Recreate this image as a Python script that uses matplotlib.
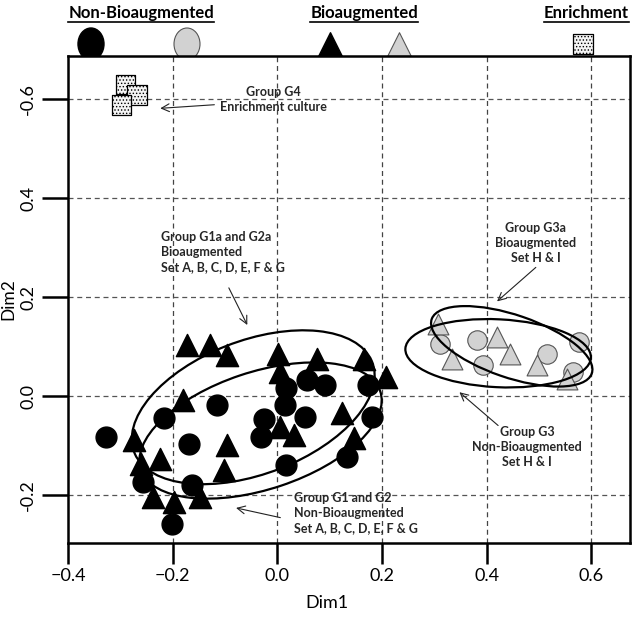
import matplotlib
matplotlib.use("Agg")
import matplotlib.pyplot as plt
from matplotlib.patches import Ellipse

"""
PCA-style ordination (Dim1 vs Dim2) of bioaugmented / non-bioaugmented sets.
"""

# black circles: non-bioaugmented sets A-G
nb_ag_x = [-0.328, -0.216, -0.115, -0.169, -0.256, -0.163, -0.201, -0.026, -0.032,
           0.017, 0.015, 0.057, 0.092, 0.053, 0.017, 0.174, 0.181, 0.134]
nb_ag_y = [-0.082, -0.044, -0.018, -0.097, -0.173, -0.179, -0.257, -0.045, -0.082,
           0.016, -0.018, 0.034, 0.022, -0.042, -0.139, 0.022, -0.042, -0.122]

# black triangles: bioaugmented sets A-G
b_ag_x = [-0.172, -0.129, -0.096, 0.002, 0.006, 0.076, 0.165, 0.208, -0.180, -0.274, -0.261,
          -0.225, -0.096, -0.102, 0.006, 0.031, 0.123, 0.146, -0.237, -0.198, -0.147]
b_ag_y = [0.103, 0.103, 0.083, 0.086, 0.049, 0.076, 0.076, 0.039, -0.008, -0.089, -0.136,
          -0.126, -0.099, -0.149, -0.062, -0.079, -0.034, -0.085, -0.203, -0.213, -0.203]

# grey circles: non-bioaugmented sets H & I
nb_hi_x = [0.311, 0.381, 0.394, 0.515, 0.577, 0.565]
nb_hi_y = [0.106, 0.113, 0.063, 0.086, 0.109, 0.049]

# grey triangles: bioaugmented sets H & I
b_hi_x = [0.308, 0.333, 0.419, 0.445, 0.496, 0.553]
b_hi_y = [0.147, 0.076, 0.120, 0.086, 0.063, 0.036]

# enrichment culture
enr_x = [-0.290, -0.268, -0.298]
enr_y = [0.630, 0.608, 0.588]

# group ellipses: centre x, centre y, width, height, angle
ell_cx = [-0.046, -0.032, 0.448, 0.422]
ell_cy = [-0.022, -0.069, 0.101, 0.087]
ell_w = [0.490, 0.484, 0.325, 0.355]
ell_h = [0.268, 0.236, 0.126, 0.137]
ell_ang = [22.5, 19.5, -20.0, -3.0]

x_ticks = [-0.4, -0.2, 0.0, 0.2, 0.4, 0.6]
y_ticks = [-0.2, 0.0, 0.2, 0.4, 0.6]
y_tick_labels = ["-0.2", "0.0", "0.2", "0.4", "-0.6"]

plt.rcParams['font.family'] = ['Lato', 'DejaVu Sans']
plt.rcParams['hatch.linewidth'] = 0.6

GREY = '#d2d2d2'
GREY_EDGE = '#555555'

fig = plt.figure(figsize=(6.32, 6.18), dpi=100)
ax = fig.add_axes([68/632, 1 - 543/618, 562/632, 487/618])

ax.set_xlim(-0.4, 0.674)
ax.set_ylim(-0.296, 0.687)

#grid first so markers sit on top
for xv in x_ticks[1:]:
    ax.axvline(xv, color='#444444', lw=0.9, ls=(0, (4, 3)), zorder=0)
for yv in y_ticks:
    ax.axhline(yv, color='#555555', lw=0.9, ls=(0, (4, 3)), zorder=0)

ax.scatter(nb_ag_x, nb_ag_y, s=15**2, marker='o', color='black', zorder=3)
ax.scatter(b_ag_x, b_ag_y, s=16**2, marker='^', color='black', zorder=3)
ax.scatter(nb_hi_x, nb_hi_y, s=14**2, marker='o', facecolor=GREY, edgecolor=GREY_EDGE,
           linewidths=0.8, zorder=3)
ax.scatter(b_hi_x, b_hi_y, s=15**2, marker='^', facecolor=GREY, edgecolor=GREY_EDGE,
           linewidths=0.8, zorder=3)
for ex, ey in zip(enr_x, enr_y):
    ax.scatter([ex], [ey], s=14**2, marker='s', facecolor='#f4f4f4', edgecolor='black',
               hatch='.....', linewidths=0.9, zorder=3)

for cx, cy, w, h, a in zip(ell_cx, ell_cy, ell_w, ell_h, ell_ang):
    ax.add_patch(Ellipse((cx, cy), w, h, angle=a, fill=False, ec='black', lw=1.6, zorder=4))

# annotations
note_kw = dict(fontsize=9, fontweight='bold', color='#262626', linespacing=1.3, va='center')
arrow_kw = dict(arrowstyle='->', color='#222222', lw=0.8, mutation_scale=14)

ax.text(-0.008, 0.600, "Group G4\nEnrichment culture", ha='center', **note_kw)
ax.annotate("", xy=(-0.229, 0.581), xytext=(-0.115, 0.589), arrowprops=arrow_kw)

ax.text(-0.223, 0.292, "Group G1a and G2a\nBioaugmented\nSet A, B, C, D, E, F & G",
        ha='left', **note_kw)
ax.annotate("", xy=(-0.055, 0.139), xytext=(-0.095, 0.224), arrowprops=arrow_kw)

ax.text(0.494, 0.310, "Group G3a\nBioaugmented\nSet H & I", ha='center', **note_kw)
ax.annotate("", xy=(0.416, 0.188), xytext=(0.498, 0.264), arrowprops=arrow_kw)

ax.text(0.477, -0.103, "Group G3\nNon-Bioaugmented\nSet H & I", ha='center', **note_kw)
ax.annotate("", xy=(0.344, 0.012), xytext=(0.426, -0.0625), arrowprops=arrow_kw)

ax.text(0.032, -0.236, "Group G1 and G2\nNon-Bioaugmented\nSet A, B, C, D, E, F & G",
        ha='left', **note_kw)
ax.annotate("", xy=(-0.084, -0.224), xytext=(0.011, -0.246), arrowprops=arrow_kw)

# axes styling
for sp in ax.spines.values():
    sp.set_linewidth(1.8)
ax.set_xticks(x_ticks)
ax.set_yticks(y_ticks)
ax.set_yticklabels(y_tick_labels, rotation=90, va='center')
ax.tick_params(axis='y', direction='out', length=19, width=1.8, labelsize=13, pad=4)
ax.tick_params(axis='x', direction='out', length=15, width=1.8, labelsize=13, pad=3)
ax.set_xlabel("Dim1", fontsize=13)
ax.xaxis.set_label_coords(0.461, -0.106)
ax.set_ylabel("Dim2", fontsize=12.5)
ax.yaxis.set_label_coords(-0.0915, 0.5)

# legend strip across the top, in figure pixel units
lax = fig.add_axes([0, 0, 1, 1], zorder=-1)
lax.set_xlim(0, 632)
lax.set_ylim(618, 0)
lax.axis('off')

headers = [("Non-Bioaugmented", 141), ("Bioaugmented", 364), ("Enrichment", 586)]
head_texts = []
for label, hx in headers:
    head_texts.append(lax.text(hx, 13, label, fontsize=12, fontweight='bold',
                               ha='center', va='center'))

lax.add_patch(Ellipse((91, 44), 26, 32, fc='black', ec='black'))
lax.add_patch(Ellipse((187, 44), 26, 32, fc=GREY, ec=GREY_EDGE, lw=0.8))
lax.scatter([330], [44], s=17**2, marker='^', color='black')
lax.scatter([399], [44], s=17**2, marker='^', facecolor=GREY, edgecolor=GREY_EDGE, linewidths=0.8)
lax.scatter([583], [44], s=14**2, marker='s', facecolor='#f4f4f4', edgecolor='black',
            hatch='.....', linewidths=0.9)

#underline the legend headers
fig.canvas.draw()
renderer = fig.canvas.get_renderer()
inv = lax.transData.inverted()
for t in head_texts:
    bb = t.get_window_extent(renderer)
    (x0, y0), (x1, y1) = inv.transform([(bb.x0, bb.y0), (bb.x1, bb.y1)])
    lax.plot([x0, x1], [y0 + 1, y0 + 1], color='black', lw=1.2)

fig.savefig("out.png", dpi=100)
